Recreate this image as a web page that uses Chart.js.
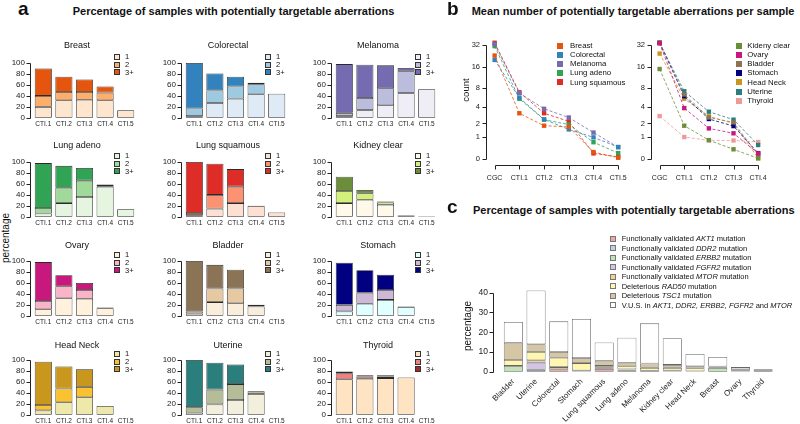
<!DOCTYPE html>
<html>
<head>
<meta charset="utf-8">
<script src="https://cdn.jsdelivr.net/npm/chart.js@4.4.1/dist/chart.umd.min.js"></script>
<style>
  body { margin: 0; width: 800px; height: 424px; overflow: hidden; background: #fff; position: relative;
         font-family: "Liberation Sans", Arial, Helvetica, sans-serif; color: #111; }
  canvas { position: absolute; }
  .t { position: absolute; white-space: nowrap; line-height: 1; }
  .sq { position: absolute; width: 6px; height: 6px; box-sizing: border-box; }
</style>
</head>
<body>
<script>
// ---- panel a: percentage of samples per CTI level ----
const ctiLevels = ['CTI.1', 'CTI.2', 'CTI.3', 'CTI.4', 'CTI.5'];
const aCancers = ['Breast', 'Colorectal', 'Melanoma', 'Lung adeno', 'Lung squamous', 'Kidney clear',
                  'Ovary', 'Bladder', 'Stomach', 'Head Neck', 'Uterine', 'Thyroid'];
const aGroups = ['1', '2', '3+'];
const aTicks = [0, 20, 40, 60, 80, 100];

const pctOne = [
  [20, 32, 33, 32, 14],
  [3, 27, 35, 43, 44],
  [3, 14, 23, 45, 52],
  [6, 25, 36, 55, 14],
  [3, 15, 25, 20, 8],
  [25, 31, 22, 2, 1],
  [12, 32, 31, 14, 0],
  [4, 25, 23, 17, 0],
  [8, 22, 29, 16, 0],
  [8, 23, 32, 16, 0],
  [4, 19, 27, 38, 0],
  [65, 66, 67, 68, 0]
];
const pctTwo = [
  [20, 15, 14, 14, 0],
  [14, 23, 22, 18, 0],
  [6, 22, 31, 40, 0],
  [10, 28, 30, 3, 0],
  [4, 25, 30, 0, 0],
  [22, 12, 4, 1, 0],
  [15, 22, 16, 0, 0],
  [4, 25, 27, 3, 0],
  [12, 20, 18, 0, 0],
  [10, 25, 19, 0, 0],
  [10, 27, 29, 5, 0],
  [11, 4, 3, 0, 0]
];
const pctThree = [
  [50, 28, 23, 11, 0],
  [83, 31, 18, 3, 0],
  [89, 61, 42, 6, 0],
  [82, 40, 23, 1, 0],
  [93, 57, 32, 0, 0],
  [26, 6, 2, 0.5, 0],
  [71, 20, 13, 1, 0],
  [92, 43, 34, 0, 0],
  [77, 41, 28, 1, 0],
  [79, 40, 32, 0, 0],
  [86, 49, 36, 0, 0],
  [3, 2, 2, 0, 0]
];
const lightCols = ['#FEE6CE', '#DEEBF7', '#EFEDF5', '#E5F5E0', '#FEE0D2', '#FFF9EA',
                   '#FFF1DC', '#F9EEDB', '#E0FFFF', '#EEE8AA', '#F2F0DC', '#FFE4C4'];
const midCols = ['#FDAE6B', '#9ECAE1', '#BCBDDC', '#A1D99B', '#FC9272', '#D2F07A',
                 '#F9B4C8', '#E6C9A0', '#CDB8D8', '#F9C22E', '#B4BD97', '#F08080'];
const darkCols = ['#E6550D', '#3182BD', '#756BB1', '#31A354', '#DE2D26', '#6B8E3A',
                  '#C8187D', '#8B7355', '#000080', '#C9961E', '#2A7F7D', '#A52A2A'];

// ---- panel b: mean number of aberrations per sample ----
const countTicks = [0, 1, 2, 4, 8, 16, 32];
const bLeftLevels = ['CGC', 'CTI.1', 'CTI.2', 'CTI.3', 'CTI.4', 'CTI.5'];
const bLeftNames = ['Breast', 'Colorectal', 'Melanoma', 'Lung adeno', 'Lung squamous'];
const bLeftCols = ['#E6550D', '#3182BD', '#756BB1', '#31A354', '#DE2D26'];
const bLeftCounts = [
  [23, 3.1, 1.8, 1.7, 0.25, 0.05],
  [20, 5.6, 2.4, 1.5, 0.96, 0.46],
  [33, 6.6, 3.7, 2.6, 1.27, 0.45],
  [31, 5.4, 2.37, 1.9, 0.69, 0.21],
  [34.5, 6.8, 3.1, 2.2, 0.2, 0.08]
];
const bRightLevels = ['CGC', 'CTI.1', 'CTI.2', 'CTI.3', 'CTI.4'];
const bRightNames = ['Kideny clear', 'Ovary', 'Bladder', 'Stomach', 'Head Neck', 'Uterine', 'Thyroid'];
const bRightCols = ['#6B8E3A', '#C8187D', '#8B7355', '#000080', '#C9961E', '#2A7F7D', '#EE9A9A'];
const bRightCounts = [
  [14.9, 1.8, 0.8, 0.36, 0.03],
  [34, 3.8, 1.58, 1.22, 0.2],
  [35, 6.3, 2.6, 2.1, 0.15],
  [34.5, 5.9, 2.44, 1.77, 0.21],
  [24.5, 5.4, 2.73, 2.0, 0.04],
  [34, 7.05, 3.3, 2.37, 0.55],
  [2.76, 0.98, 0.79, 0.78, 0.7]
];

// ---- panel c: samples with potentially targetable aberrations ----
const cCancers = ['Bladder', 'Uterine', 'Colorectal', 'Stomach', 'Lung squamous', 'Lung adeno',
                  'Melanoma', 'Kidney clear', 'Head Neck', 'Breast', 'Ovary', 'Thyroid'];
const cTicks = [0, 10, 20, 30, 40];
const cLabels = [
  'Functionally validated <i>AKT1</i> mutation',
  'Functionally validated <i>DDR2</i> mutation',
  'Functionally validated <i>ERBB2</i> mutation',
  'Functionally validated <i>FGFR2</i> mutation',
  'Functionally validated <i>MTOR</i> mutation',
  'Deleterious <i>RAD50</i> mutation',
  'Deleterious <i>TSC1</i> mutation',
  'V.U.S. in <i>AKT1, DDR2, ERBB2, FGFR2</i> and <i>MTOR</i>'
];
const cColors = ['#F2A5A5', '#B9D3E6', '#C2E3B8', '#D4C4E4', '#F8D08C', '#FFF6B0', '#D5C6A6', '#FFFFFF'];
const akt1 = [0, 0, 1.3, 0.3, 1.5, 0.5, 0, 0.3, 0, 0, 0.3, 0.5];
const ddr2 = [0, 1.0, 0, 0, 0, 0.5, 0, 0, 0, 0, 0.3, 0];
const erbb2 = [3.0, 0, 0, 0, 0, 0, 0, 0, 0, 2.0, 0.3, 0];
const fgfr2 = [0, 3.6, 0, 0, 0, 0, 0, 0, 0, 0, 0, 0];
const mtor = [0, 1.2, 1.1, 0.3, 0.5, 0.3, 0.5, 0.3, 0.3, 0, 0, 0];
const rad50 = [3.0, 4.2, 4.7, 3.8, 1.0, 1.5, 1.5, 1.4, 1.5, 0, 0, 0];
const tsc1 = [8.7, 3.9, 2.9, 2.6, 2.6, 1.8, 2.2, 1.5, 1.0, 0.7, 0.4, 0.8];
const vus = [10.5, 27.2, 15.5, 19.7, 9.2, 12.6, 20.3, 13.5, 6.2, 4.8, 1.1, 0];

// R style axes: line only between first and last tick, set off from the plot area by gap
function rAxes(cfg) {
  return {
    id: 'rAxes',
    afterDraw(chart) {
      const { ctx, chartArea: a, scales } = chart;
      ctx.save();
      ctx.strokeStyle = '#222';
      ctx.lineWidth = 1;
      ctx.beginPath();
      if (cfg.y !== undefined) {
        const s = scales.y;
        const ps = cfg.yTicks.map(v => Math.round(s.getPixelForValue(v)) + 0.5);
        const x = Math.round(a.left - cfg.y) + 0.5;
        ctx.moveTo(x, Math.min(...ps));
        ctx.lineTo(x, Math.max(...ps));
        ps.forEach(p => { ctx.moveTo(x, p); ctx.lineTo(x - 4, p); });
      }
      if (cfg.x !== undefined) {
        const s = scales.x;
        const ps = cfg.xTicks.map(v => Math.round(s.getPixelForValue(v)) + 0.5);
        const y = Math.round(a.bottom + cfg.x) + 0.5;
        ctx.moveTo(Math.min(...ps), y);
        ctx.lineTo(Math.max(...ps), y);
        ps.forEach(p => { ctx.moveTo(p, y); ctx.lineTo(p, y + 4); });
      }
      ctx.stroke();
      ctx.restore();
    }
  };
}

function makeCanvas(left, top, w, h) {
  const c = document.createElement('canvas');
  c.width = w;
  c.height = h;
  c.style.left = left + 'px';
  c.style.top = top + 'px';
  document.body.appendChild(c);
  return c;
}

function addText(html, x, y, size, o = {}) {
  const d = document.createElement('div');
  d.className = 't';
  d.innerHTML = html;
  d.style.fontSize = size + 'px';
  if (o.bold) d.style.fontWeight = 'bold';
  d.style.left = x + 'px';
  if (o.rotate) {
    d.style.top = y + 'px';
    d.style.transform = 'translate(-50%,-50%) rotate(-90deg)';
  } else {
    d.style.top = (y - 0.8465 * size) + 'px';   // y is the baseline
    if (o.center) d.style.transform = 'translateX(-50%)';
  }
  document.body.appendChild(d);
  return d;
}

function addLegendItem(boxX, textX, yc, color, border, html, size) {
  const s = document.createElement('div');
  s.className = 'sq';
  s.style.left = boxX + 'px';
  s.style.top = (yc - 3) + 'px';
  s.style.background = color;
  if (border) s.style.border = '1px solid ' + border;
  document.body.appendChild(s);
  addText(html, textX, yc + 0.358 * size, size);
}

Chart.defaults.font.family = '"Liberation Sans", Arial, Helvetica, sans-serif';
Chart.defaults.color = '#222';

// ================= panel a =================
addText('a', 18, 15, 19, { bold: true });
addText('Percentage of samples with potentially targetable aberrations', 233.5, 15, 11, { bold: true, center: true });
addText('percentage', 6, 238, 10, { rotate: true });

const aColLeft = [33, 184, 334];
const aRowTop = [53, 152, 251, 350];
const aTitleBase = [48.3, 149, 248.2, 348.5];
const A_W = 103, A_H = 67;

aCancers.forEach((name, i) => {
  const col = i % 3, row = Math.floor(i / 3);
  const aL = aColLeft[col], aT = aRowTop[row];
  const yW = 30, padT = 5, xH = 14, padR = 3;
  const cv = makeCanvas(aL - yW, aT - padT, yW + A_W + padR, padT + A_H + xH);
  const fills = [lightCols, midCols, darkCols];
  new Chart(cv, {
    type: 'bar',
    data: {
      labels: ctiLevels,
      datasets: [pctOne, pctTwo, pctThree].map((arr, k) => ({
        label: aGroups[k],
        data: arr[i],
        backgroundColor: fills[k][i],
        borderColor: '#2a2a2a',
        borderWidth: 0.8,
        borderSkipped: false,
        categoryPercentage: 1,
        barPercentage: 0.83
      }))
    },
    options: {
      responsive: false,
      animation: false,
      layout: { padding: { top: padT, right: padR, left: 0, bottom: 0 } },
      plugins: { legend: { display: false }, tooltip: { enabled: false } },
      scales: {
        x: {
          stacked: true,
          grid: { display: false, drawTicks: false },
          border: { display: false },
          ticks: { font: { size: 6.5 }, padding: 0, autoSkip: false, maxRotation: 0 },
          afterFit: s => { s.height = xH; }
        },
        y: {
          stacked: true, min: -4, max: 104,
          grid: { display: false, drawTicks: false },
          border: { display: false },
          ticks: { font: { size: 8 }, padding: 8, autoSkip: false },
          afterBuildTicks: s => { s.ticks = aTicks.map(v => ({ value: v })); },
          afterFit: s => { s.width = yW; }
        }
      }
    },
    plugins: [rAxes({ y: 3, yTicks: aTicks })]
  });

  addText(name, aL + 44, aTitleBase[row], 9, { center: true });
  const y100 = aT + 2.5;
  aGroups.forEach((g, k) => {
    addLegendItem(aL + 81, aL + 92, y100 + 1.3 + 7.8 * k, fills[k][i], '#333', g, 7.5);
  });
});

// ================= panel b =================
addText('b', 447, 15, 19, { bold: true });
addText('Mean number of potentially targetable aberrations per sample', 471.7, 15, 11, { bold: true });
addText('count', 466, 90, 9.5, { rotate: true });

const countPos = v => Math.log2(v + 1);

function makeCountChart(areaL, areaW, levels, names, cols, rows) {
  const yW = 22, padT = 6, areaH = 129, xH = 20, padR = 4;
  const cv = makeCanvas(areaL - yW, 36 - padT, yW + areaW + padR, padT + areaH + xH);
  new Chart(cv, {
    type: 'line',
    data: {
      datasets: rows.map((r, k) => ({
        label: names[k],
        data: r.map((v, j) => ({ x: j, y: countPos(v) })),
        borderColor: cols[k],
        backgroundColor: cols[k],
        borderWidth: 0.8,
        borderDash: [3, 2],
        pointStyle: 'rect',
        pointRadius: 3.1,
        pointBorderWidth: 0,
        pointBackgroundColor: cols[k],
        tension: 0,
        clip: false
      }))
    },
    options: {
      responsive: false,
      animation: false,
      layout: { padding: { top: padT, right: padR, left: 0, bottom: 0 } },
      plugins: { legend: { display: false }, tooltip: { enabled: false } },
      scales: {
        x: {
          type: 'linear', min: -0.35, max: levels.length - 1 + 0.35,
          grid: { display: false, drawTicks: false },
          border: { display: false },
          ticks: { font: { size: 7 }, padding: 9, maxRotation: 0, autoSkip: false,
                   callback: v => levels[Math.round(v)] },
          afterBuildTicks: s => { s.ticks = levels.map((l, j) => ({ value: j })); },
          afterFit: s => { s.height = xH; }
        },
        y: {
          min: -0.25, max: 5.25,
          grid: { display: false, drawTicks: false },
          border: { display: false },
          ticks: { font: { size: 7.5 }, padding: 6, autoSkip: false,
                   callback: (v, idx) => String(countTicks[idx]) },
          afterBuildTicks: s => { s.ticks = countTicks.map(v => ({ value: countPos(v) })); },
          afterFit: s => { s.width = yW; }
        }
      }
    },
    plugins: [rAxes({ x: 0, xTicks: levels.map((l, j) => j), y: 0, yTicks: countTicks.map(countPos) })]
  });
}

makeCountChart(486, 146, bLeftLevels, bLeftNames, bLeftCols, bLeftCounts);
makeCountChart(651, 121, bRightLevels, bRightNames, bRightCols, bRightCounts);

bLeftNames.forEach((n, k) => addLegendItem(557, 570, 46 + 9.1 * k, bLeftCols[k], null, n, 7.8));
bRightNames.forEach((n, k) => addLegendItem(735.5, 747.3, 46 + 9.1 * k, bRightCols[k], null, n, 7.8));

// ================= panel c =================
addText('c', 447, 213.5, 19, { bold: true });
addText('Percentage of samples with potentially targetable aberrations', 473, 214.5, 11, { bold: true });
addText('percentage', 468, 326, 10, { rotate: true });

const cSeries = [akt1, ddr2, erbb2, fgfr2, mtor, rad50, tsc1, vus];
const cCanvas = makeCanvas(460, 268, 340, 156);
new Chart(cCanvas, {
  type: 'bar',
  data: {
    labels: cCancers,
    datasets: cSeries.map((arr, k) => ({
      label: cLabels[k].replace(/<[^>]+>/g, ''),
      data: arr,
      backgroundColor: cColors[k],
      borderColor: '#666',
      borderWidth: 0.8,
      borderSkipped: false,
      categoryPercentage: 1,
      barPercentage: 0.84
    }))
  },
  options: {
    responsive: false,
    animation: false,
    layout: { padding: { top: 5, right: 25.5, left: 0, bottom: 0 } },
    plugins: { legend: { display: false }, tooltip: { enabled: false } },
    scales: {
      x: {
        stacked: true,
        grid: { display: false, drawTicks: false },
        border: { display: false },
        ticks: { font: { size: 8 }, autoSkip: false, minRotation: 45, maxRotation: 45, padding: 2 },
        afterFit: s => { s.height = 49; }
      },
      y: {
        stacked: true, min: -1.6, max: 42.8,
        grid: { display: false, drawTicks: false },
        border: { display: false },
        ticks: { font: { size: 8.5 }, padding: 14, autoSkip: false },
        afterBuildTicks: s => { s.ticks = cTicks.map(v => ({ value: v })); },
        afterFit: s => { s.width = 42; }
      }
    }
  },
  plugins: [rAxes({ y: 8.7, yTicks: cTicks })]
});

cLabels.forEach((l, k) => addLegendItem(609.5, 621.7, 239 + 9.47 * k, cColors[k], '#777', l, 7.5));
</script>
</body>
</html>
